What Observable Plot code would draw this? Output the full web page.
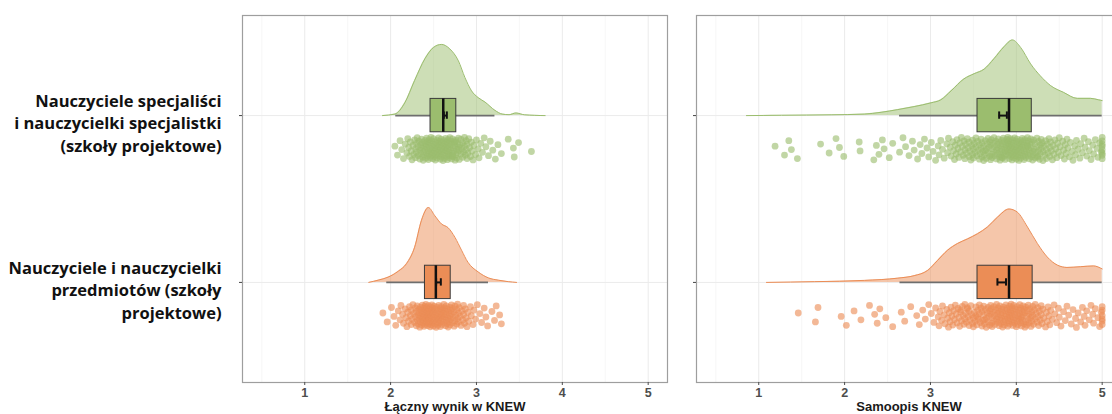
<!DOCTYPE html>
<html><head><meta charset="utf-8">
<script src="https://cdn.jsdelivr.net/npm/d3@7"></script>
<script src="https://cdn.jsdelivr.net/npm/@observablehq/plot@0.6"></script>
<style>
html,body{margin:0;padding:0;background:#fff;overflow:hidden;}
#chart{width:1112px;height:414px;overflow:hidden;}
#chart svg{max-width:none !important;}
</style></head><body><div id="chart"></div>
<script>
// ---------- categories ----------
const panels = ["Łączny wynik w KNEW", "Samoopis KNEW"];
const groups = [
  "Nauczyciele specjaliści\ni nauczycielki specjalistki\n(szkoły projektowe)",
  "Nauczyciele i nauczycielki\nprzedmiotów (szkoły\nprojektowe)"
];
const xTicks = [1, 2, 3, 4, 5];
const xMinor = [0.5, 1.5, 2.5, 3.5, 4.5];
const colors = ["#9bbd6e", "#eb8d56"];

// ---------- box statistics: [q1, median, q3, whiskerLo, whiskerHi, meanLo, meanHi] ----------
const boxLacznySpec = [2.465, 2.613, 2.765, 2.06, 3.215, 2.62, 2.655];
const boxLacznyPrzed = [2.40, 2.527, 2.70, 1.955, 3.14, 2.53, 2.585];
const boxSamoSpec = [3.548, 3.915, 4.18, 2.64, 5.0, 3.80, 3.89];
const boxSamoPrzed = [3.548, 3.915, 4.19, 2.645, 5.0, 3.78, 3.88];

// ---------- density curves: [x, relative density] ----------
const densLacznySpec = [[1.905,0],[2.05,0.02],[2.165,0.17],[2.28,0.47],[2.40,0.76],[2.50,0.91],[2.593,0.95],[2.69,0.89],[2.79,0.73],[2.865,0.51],[2.943,0.33],[3.02,0.24],[3.10,0.18],[3.215,0.07],[3.30,0.02],[3.38,0.012],[3.46,0.035],[3.56,0.01],[3.68,0.003],[3.80,0]];
const densLacznyPrzed = [[1.746,0],[1.855,0.03],[1.97,0.07],[2.09,0.15],[2.185,0.25],[2.28,0.47],[2.36,0.83],[2.44,1.0],[2.515,0.89],[2.593,0.78],[2.67,0.73],[2.75,0.60],[2.826,0.43],[2.90,0.27],[3.02,0.14],[3.14,0.06],[3.255,0.03],[3.37,0.01],[3.467,0]];
const densSamoSpec = [[0.857,0],[1.264,0.004],[1.844,0.01],[2.23,0.02],[2.425,0.044],[2.62,0.08],[2.81,0.12],[3.006,0.17],[3.12,0.21],[3.24,0.33],[3.39,0.49],[3.51,0.56],[3.625,0.62],[3.74,0.76],[3.857,0.92],[3.955,1.01],[4.05,0.91],[4.167,0.69],[4.28,0.53],[4.40,0.40],[4.55,0.31],[4.71,0.23],[4.864,0.23],[4.96,0.21],[5.0,0.20]];
const densSamoPrzed = [[1.09,0],[1.65,0.01],[2.23,0.027],[2.62,0.057],[2.81,0.09],[2.967,0.16],[3.08,0.29],[3.20,0.43],[3.316,0.52],[3.43,0.58],[3.548,0.65],[3.664,0.74],[3.78,0.87],[3.915,0.98],[4.01,0.94],[4.13,0.74],[4.245,0.52],[4.36,0.34],[4.48,0.23],[4.59,0.20],[4.75,0.21],[4.90,0.22],[5.0,0.18]];

// ---------- individual scores ----------
const ptsLacznySpec = [2.05,2.08,2.11,2.13,2.15,2.17,2.19,2.20,2.21,2.22,2.23,2.24,2.25,2.26,2.27,2.28,2.29,2.29,
2.30,2.30,2.31,2.32,2.32,2.33,2.34,2.34,2.35,2.35,2.36,2.36,2.37,2.37,2.38,2.38,2.39,2.39,
2.40,2.40,2.41,2.41,2.42,2.42,2.42,2.43,2.43,2.44,2.44,2.44,2.45,2.45,2.46,2.46,2.46,2.47,2.47,2.48,2.48,2.48,2.49,2.49,
2.50,2.50,2.50,2.51,2.51,2.52,2.52,2.52,2.53,2.53,2.54,2.54,2.54,2.55,2.55,2.56,2.56,2.56,2.57,2.57,2.58,2.58,2.58,2.59,2.59,2.59,
2.60,2.60,2.61,2.61,2.61,2.62,2.62,2.63,2.63,2.63,2.64,2.64,2.65,2.65,2.65,2.66,2.66,2.67,2.67,2.67,2.68,2.68,2.68,2.69,2.69,2.69,
2.70,2.70,2.71,2.71,2.72,2.72,2.73,2.73,2.74,2.74,2.75,2.75,2.76,2.76,2.77,2.77,2.78,2.78,2.79,2.79,2.72,2.75,
2.80,2.80,2.81,2.82,2.82,2.83,2.84,2.84,2.85,2.86,2.86,2.87,2.88,2.88,2.89,2.89,
2.90,2.91,2.92,2.93,2.94,2.95,2.96,2.97,2.99,3.00,3.02,3.03,3.05,3.07,3.09,3.11,3.14,3.16,3.19,3.22,3.25,3.29,3.37,3.43,3.44,3.49,3.64];
const ptsLacznyPrzed = [1.91,1.96,2.01,2.04,2.06,2.09,2.11,2.12,2.14,2.15,2.17,2.18,2.19,
2.20,2.21,2.22,2.23,2.24,2.24,2.25,2.26,2.27,2.28,2.29,2.29,
2.30,2.30,2.31,2.31,2.32,2.32,2.33,2.33,2.34,2.34,2.35,2.35,2.35,2.36,2.36,2.37,2.37,2.37,2.38,2.38,2.38,2.39,2.39,2.39,
2.40,2.40,2.40,2.41,2.41,2.41,2.42,2.42,2.42,2.43,2.43,2.43,2.44,2.44,2.44,2.45,2.45,2.45,2.46,2.46,2.46,2.47,2.47,2.47,2.48,2.48,2.48,2.49,2.49,2.49,
2.50,2.50,2.50,2.51,2.51,2.52,2.52,2.52,2.53,2.53,2.54,2.54,2.54,2.55,2.55,2.56,2.56,2.56,2.57,2.57,2.58,2.58,2.58,2.59,2.59,2.59,
2.60,2.60,2.61,2.61,2.62,2.62,2.62,2.63,2.63,2.64,2.64,2.65,2.65,2.65,2.66,2.66,2.67,2.67,2.68,2.68,2.69,2.69,2.69,
2.70,2.70,2.71,2.71,2.72,2.72,2.73,2.74,2.74,2.75,2.75,2.76,2.77,2.77,2.78,2.78,2.79,2.79,
2.80,2.81,2.82,2.83,2.84,2.85,2.85,2.86,2.87,2.88,2.89,2.90,2.91,2.93,2.94,2.96,2.97,2.99,
3.01,3.04,3.06,3.09,3.11,3.13,3.18,3.21,3.23,3.27,3.29];
const ptsSamoSpec = [1.19,1.30,1.35,1.38,1.45,1.72,1.82,1.90,1.94,1.99,2.17,2.18,2.34,2.37,2.40,2.44,2.46,
2.52,2.56,2.64,2.68,2.71,2.75,2.79,2.81,2.85,2.88,2.90,2.93,2.96,2.98,3.01,3.03,3.06,3.09,3.10,3.12,3.14,3.16,3.19,
3.20,3.21,3.23,3.24,3.26,3.27,3.28,3.29,3.30,3.31,3.32,3.33,3.34,3.35,3.36,3.37,3.38,3.39,
3.40,3.40,3.41,3.42,3.43,3.44,3.45,3.45,3.46,3.47,3.48,3.49,3.49,
3.50,3.50,3.51,3.52,3.53,3.53,3.54,3.55,3.56,3.57,3.57,3.58,3.59,3.59,
3.60,3.60,3.61,3.62,3.62,3.63,3.64,3.65,3.65,3.66,3.67,3.67,3.68,3.69,3.69,3.64,
3.70,3.70,3.71,3.71,3.72,3.72,3.73,3.74,3.74,3.75,3.75,3.76,3.77,3.77,3.78,3.78,3.79,3.79,
3.80,3.80,3.81,3.81,3.82,3.82,3.83,3.83,3.84,3.84,3.85,3.85,3.86,3.86,3.86,3.87,3.87,3.88,3.88,3.89,3.89,3.83,
3.90,3.90,3.90,3.91,3.91,3.91,3.92,3.92,3.92,3.93,3.93,3.94,3.94,3.94,3.95,3.95,3.95,3.96,3.96,3.97,3.97,3.97,3.98,3.98,3.99,3.99,
4.00,4.00,4.00,4.01,4.01,4.01,4.02,4.02,4.03,4.03,4.03,4.04,4.04,4.05,4.05,4.05,4.06,4.06,4.07,4.07,4.08,4.08,4.09,4.09,4.09,
4.10,4.10,4.11,4.11,4.12,4.12,4.13,4.13,4.14,4.14,4.15,4.15,4.16,4.16,4.17,4.17,4.18,4.18,4.19,4.19,4.13,
4.20,4.20,4.21,4.22,4.22,4.23,4.24,4.24,4.25,4.26,4.26,4.27,4.28,4.28,4.29,4.29,4.25,
4.30,4.31,4.31,4.32,4.33,4.34,4.35,4.35,4.36,4.37,4.38,4.39,4.39,
4.40,4.41,4.42,4.43,4.44,4.45,4.46,4.47,4.48,4.49,4.50,4.51,4.52,4.54,4.55,4.56,4.57,4.58,4.59,
4.60,4.62,4.63,4.65,4.66,4.68,4.69,4.70,4.72,4.74,4.75,4.77,4.79,4.80,4.82,4.84,4.85,4.87,4.89,
4.90,4.92,4.94,4.95,4.97,4.99,5,5,5,5,5,5,5,5];
const ptsSamoPrzed = [1.46,1.66,1.69,1.96,2.02,2.11,2.19,2.29,2.35,2.38,2.41,2.48,
2.56,2.66,2.70,2.77,2.84,2.87,2.91,2.94,2.98,3.01,3.04,3.06,3.09,3.10,3.11,3.13,3.14,3.16,3.17,3.19,
3.20,3.21,3.22,3.23,3.24,3.25,3.26,3.27,3.28,3.29,3.30,3.31,3.32,3.33,3.34,3.35,3.36,3.37,3.38,3.39,3.35,
3.40,3.40,3.41,3.42,3.43,3.44,3.45,3.45,3.46,3.47,3.48,3.49,3.43,
3.50,3.50,3.51,3.52,3.53,3.53,3.54,3.55,3.56,3.57,3.57,3.58,3.59,3.55,
3.60,3.60,3.61,3.62,3.62,3.63,3.64,3.65,3.65,3.66,3.67,3.67,3.68,3.69,3.69,3.63,
3.70,3.70,3.71,3.71,3.72,3.72,3.73,3.74,3.74,3.75,3.75,3.76,3.77,3.77,3.78,3.78,3.79,3.79,
3.80,3.80,3.81,3.81,3.82,3.82,3.83,3.83,3.84,3.84,3.85,3.85,3.86,3.86,3.87,3.87,3.88,3.88,3.89,3.89,
3.90,3.90,3.91,3.91,3.92,3.92,3.92,3.93,3.93,3.94,3.94,3.95,3.95,3.95,3.96,3.96,3.97,3.97,3.98,3.98,3.99,3.99,
4.00,4.00,4.01,4.01,4.02,4.02,4.03,4.03,4.04,4.04,4.05,4.05,4.06,4.06,4.07,4.07,4.08,4.08,4.09,4.09,4.05,
4.10,4.10,4.11,4.11,4.12,4.12,4.13,4.14,4.14,4.15,4.15,4.16,4.17,4.17,4.18,4.18,4.19,4.19,
4.20,4.21,4.22,4.22,4.23,4.24,4.25,4.25,4.26,4.27,4.28,4.29,4.29,
4.30,4.31,4.32,4.34,4.35,4.36,4.37,4.38,4.39,4.40,4.42,4.44,4.45,4.47,4.49,
4.50,4.52,4.55,4.57,4.59,4.61,4.64,4.66,4.69,4.70,4.72,4.75,4.77,4.79,
4.80,4.82,4.85,4.87,4.89,4.90,4.92,4.95,4.97,4.99,5,5,5,5,5,5];

// ---------- assemble tables ----------
const baseOf = g => g === groups[0] ? 2 : 1;   // category position on the y axis
const series = [
  {panel: panels[0], group: groups[0], box: boxLacznySpec, dens: densLacznySpec, pts: ptsLacznySpec},
  {panel: panels[0], group: groups[1], box: boxLacznyPrzed, dens: densLacznyPrzed, pts: ptsLacznyPrzed},
  {panel: panels[1], group: groups[0], box: boxSamoSpec, dens: densSamoSpec, pts: ptsSamoSpec},
  {panel: panels[1], group: groups[1], box: boxSamoPrzed, dens: densSamoPrzed, pts: ptsSamoPrzed}
];
const boxes = series.map(s => ({panel: s.panel, group: s.group, base: baseOf(s.group),
  q1: s.box[0], med: s.box[1], q3: s.box[2], lo: s.box[3], hi: s.box[4], mLo: s.box[5], mHi: s.box[6]}));
const dens = series.flatMap(s => s.dens.map(([x, h]) => ({panel: s.panel, group: s.group, base: baseOf(s.group), x, h})));
const pts = series.flatMap(s => s.pts.map((x, i) => ({panel: s.panel, group: s.group, base: baseOf(s.group), x, i})));

const DENS_K = 0.449;      // density height relative to category spacing
const BOX_H = 0.1;
const jit = i => ((i + 1) * 0.6180339887) % 1;

const chart = Plot.plot({
  width: 1121, height: 414,
  marginLeft: 241, marginRight: 0, marginTop: 15, marginBottom: 32,
  x: {domain: [0.275, 5.225]},
  y: {domain: [0.4, 2.6]},
  fx: {domain: panels, padding: 0.0644, axis: null},
  color: {domain: groups, range: colors},
  style: {fontFamily: "'Liberation Sans', Arial, sans-serif", background: "white", overflow: "visible", maxWidth: "none"},
  marks: [
    Plot.gridX(xMinor, {stroke: "#f3f3f3", strokeOpacity: 1, strokeWidth: 0.7}),
    Plot.gridX(xTicks, {stroke: "#ebebeb", strokeOpacity: 1, strokeWidth: 1}),
    Plot.gridY([1, 2], {stroke: "#ebebeb", strokeOpacity: 1, strokeWidth: 1}),
    Plot.areaY(dens, {fx: "panel", x: "x", y1: "base", y2: d => d.base + d.h * DENS_K, z: "group",
      fill: "group", fillOpacity: 0.5, curve: "monotone-x"}),
    Plot.lineY(dens, {fx: "panel", x: "x", y: d => d.base + d.h * DENS_K, z: "group",
      stroke: "group", strokeWidth: 1, curve: "monotone-x"}),
    Plot.dot(pts, {fx: "panel", x: "x", y: d => d.base - 0.2 + (jit(d.i) - 0.5) * 0.14,
      fill: "group", fillOpacity: 0.62, r: 3.4, stroke: null}),
    Plot.ruleY(boxes, {fx: "panel", y: "base", x1: "lo", x2: "hi", stroke: "#6e6e6e", strokeWidth: 1.6}),
    Plot.rect(boxes, {fx: "panel", x1: "q1", x2: "q3", y1: d => d.base - BOX_H, y2: d => d.base + BOX_H,
      fill: "group", stroke: "#3a3a3a", strokeWidth: 1}),
    Plot.ruleX(boxes, {fx: "panel", x: "med", y1: d => d.base - BOX_H, y2: d => d.base + BOX_H,
      stroke: "#111", strokeWidth: 2.5}),
    Plot.ruleY(boxes, {fx: "panel", y: "base", x1: "mLo", x2: "mHi", stroke: "#111", strokeWidth: 2}),
    Plot.ruleX(boxes, {fx: "panel", x: "mLo", y1: d => d.base - 0.022, y2: d => d.base + 0.022, stroke: "#111", strokeWidth: 2}),
    Plot.ruleX(boxes, {fx: "panel", x: "mHi", y1: d => d.base - 0.022, y2: d => d.base + 0.022, stroke: "#111", strokeWidth: 2}),
    Plot.frame({stroke: "#9e9e9e", strokeWidth: 1.2}),
    Plot.axisX({ticks: xTicks, tickFormat: "d", tickSize: 3, tickPadding: 3, fontSize: 12.5, fontWeight: "bold",
      color: "#4d4d4d", label: null}),
    Plot.axisY({ticks: [1, 2], tickSize: 3, tickFormat: () => "", label: null, facetAnchor: null, color: "#444"}),
    Plot.text(panels.map(p => ({panel: p})), {fx: "panel", text: "panel", frameAnchor: "bottom", dy: 24,
      lineAnchor: "middle", fontSize: 13, fontWeight: "bold", fill: "#1a1a1a"}),
    Plot.text(groups.map(g => ({panel: panels[0], group: g, base: baseOf(g)})), {fx: "panel", y: "base", text: "group",
      frameAnchor: "left", textAnchor: "end", dx: -21, dy: 6.5, fontSize: 16.5, fontWeight: 700,
      fontFamily: "'Open Sans', sans-serif", lineHeight: 1.37, fill: "#111"})
  ]
});
document.getElementById("chart").appendChild(chart);
</script>
</body></html>
